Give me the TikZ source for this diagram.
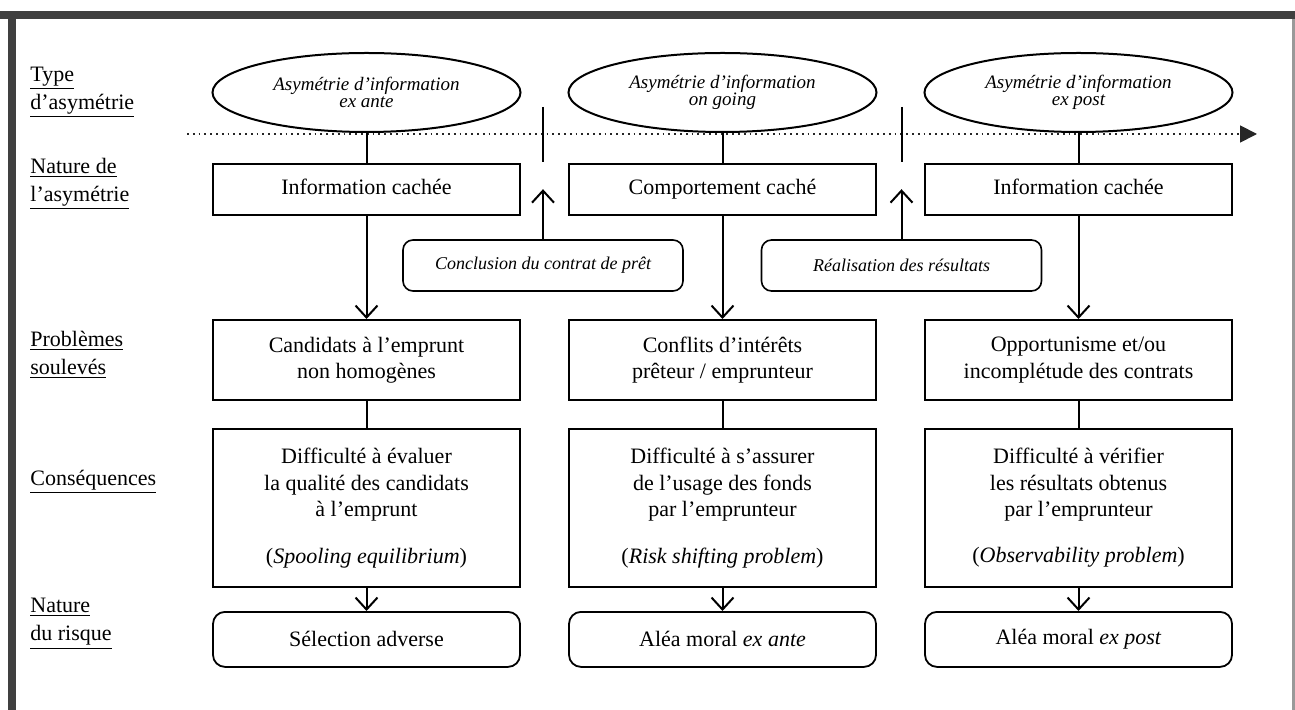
\documentclass[tikz,border=0pt]{standalone}
\usepackage{fontspec}
\setmainfont{Liberation Serif}
\usepackage{tikz}
\usetikzlibrary{arrows.meta,positioning,shapes.geometric}
\tikzset{
  asym/.style={draw, ellipse, line width=1pt, minimum width=154pt, minimum height=39.5pt,
               inner sep=1pt, align=center, font=\fontsize{9.5}{8.5}\selectfont\itshape},
  nat/.style={draw, line width=1pt, minimum width=153.5pt, inner sep=2pt, align=center,
              font=\fontsize{11}{13.2}\selectfont},
  natone/.style={nat, minimum height=25.5pt, text height=1.6ex, text depth=0.45ex},
  evt/.style={draw, rounded corners=5pt, line width=0.8pt, minimum width=140pt,
              minimum height=25.5pt, font=\fontsize{9}{11}\selectfont\itshape},
  risk/.style={nat, rounded corners=6pt, line width=0.9pt, minimum height=27.5pt},
  lbl/.style={anchor=west, align=left, inner sep=0pt, font=\fontsize{11}{14}\selectfont},
  link/.style={line width=1pt},
  arr/.style={line width=1pt, -{Straight Barb[length=6pt, width=11pt, line width=1pt]}}
}

\begin{document}
\begin{tikzpicture}[x=0.5pt, y=-0.5pt]
\useasboundingbox (0,0) rectangle (1295,710);
% frame
\fill[black!75] (0,11) rectangle (1295,19);
\fill[black!75] (8,11) rectangle (16,710);
\fill[black!40] (1292,19) rectangle (1295,710);

% row labels
\node[lbl] (ltype) at (30,92.5) {\underline{Type}\\\underline{d'asymétrie}};
\node[lbl] (lnat) at (30,184) {\underline{Nature de}\\\underline{l'asymétrie}};
\node[lbl] (lprob) at (30,355) {\underline{Problèmes}\\\underline{soulevés}};
\node[lbl] (lcons) at (30,482) {\underline{Conséquences}};
\node[lbl] (lrisk) at (30,624) {\underline{Nature}\\\underline{du risque}};

% time line
\coordinate (tstart) at (187,134);
\coordinate (tend) at (1257,134);
\draw[dotted, line width=0.9pt, black!85, -{Triangle[length=8.5pt, width=8.5pt]}] (tstart) -- (tend);

% column 1
\node[asym] (e1) at (366.5,92.5) {Asymétrie d'information\\ex ante};
\node[natone, below=15pt of e1] (n1) {Information cachée};
\node[nat, minimum height=40pt, below=51.5pt of n1] (p1) {Candidats à l'emprunt\\non homogènes};
\node[nat, minimum height=79pt, below=13.5pt of p1] (c1) {Difficulté à évaluer\\la qualité des candidats\\à l'emprunt\\[10pt](\textit{Spooling equilibrium})};
\node[risk, below=11.5pt of c1] (r1) {Sélection adverse};

% column 2
\node[asym] (e2) at (722.5,92.5) {Asymétrie d'information\\on going};
\node[natone, below=15pt of e2] (n2) {Comportement caché};
\node[nat, minimum height=40pt, below=51.5pt of n2] (p2) {Conflits d'intérêts\\prêteur / emprunteur};
\node[nat, minimum height=79pt, below=13.5pt of p2] (c2) {Difficulté à s'assurer\\de l'usage des fonds\\par l'emprunteur\\[10pt](\textit{Risk shifting problem})};
\node[risk, below=11.5pt of c2] (r2) {Aléa moral \textit{ex ante}};

% column 3
\node[asym] (e3) at (1078.5,92.5) {Asymétrie d'information\\ex post};
\node[natone, below=15pt of e3] (n3) {Information cachée};
\node[nat, minimum height=40pt, below=51.5pt of n3] (p3) {Opportunisme et/ou\\incomplétude des contrats};
\node[nat, minimum height=79pt, below=13.5pt of p3] (c3) {Difficulté à vérifier\\les résultats obtenus\\par l'emprunteur\\[10pt](\textit{Observability problem})};
\node[risk, below=11.5pt of c3] (r3) {Aléa moral \textit{ex post}};

% events between periods
\node[evt] (concl) at (543,265.5) {Conclusion du contrat de prêt};
\node[evt] (real) at (901.5,265.5) {Réalisation des résultats};
\coordinate (tick1) at (543,107);
\coordinate (tick2) at (901.5,107);
\draw[link] (tick1) -- ++(0,55);
\draw[link] (tick2) -- ++(0,55);
\draw[arr] (concl.north) -- ++(0,-50);
\draw[arr] (real.north) -- ++(0,-50);

% connectors
\foreach \i in {1,2,3} {
  \draw[link] (e\i.south) -- (n\i.north);
  \draw[arr] (n\i.south) -- (p\i.north);
  \draw[link] (p\i.south) -- (c\i.north);
  \draw[arr] (c\i.south) -- (r\i.north);
}
\end{tikzpicture}
\end{document}
